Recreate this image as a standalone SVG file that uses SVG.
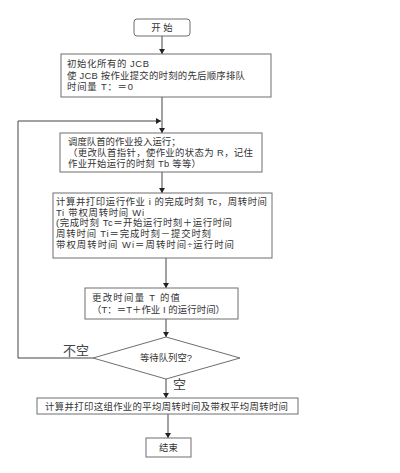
<svg xmlns="http://www.w3.org/2000/svg" width="400" height="473" viewBox="0 0 400 473">
<style>
.box{fill:#fff;stroke:#6e6e6e;stroke-width:1}
.t{font-family:"Liberation Sans","Noto Sans CJK SC",sans-serif;font-size:9.4px;fill:#333}
.c{text-anchor:middle}
.ln{stroke:#444;stroke-width:1;fill:none}
.lb{font-family:"Liberation Serif","Noto Sans CJK SC",serif;font-size:13px;fill:#444}
</style>
<defs>
<marker id="a" markerWidth="6" markerHeight="6" refX="5" refY="3" orient="auto" markerUnits="userSpaceOnUse">
<path d="M0,0 L5,3 L0,6 Z" fill="#222"/>
</marker>
</defs>
<rect width="400" height="473" fill="#fff"/>
<g id="connectors">
<line class="ln" x1="162" y1="36" x2="162" y2="54" marker-end="url(#a)"/>
<line class="ln" x1="162" y1="97" x2="162" y2="133" marker-end="url(#a)"/>
<polyline class="ln" points="93,358 18,358 18,121 161,121" marker-end="url(#a)"/>
<line class="ln" x1="162" y1="172" x2="162" y2="193" marker-end="url(#a)"/>
<line class="ln" x1="166" y1="258" x2="166" y2="288" marker-end="url(#a)"/>
<line class="ln" x1="166" y1="319" x2="166" y2="337" marker-end="url(#a)"/>
<line class="ln" x1="166" y1="379" x2="166" y2="398" marker-end="url(#a)"/>
<line class="ln" x1="168" y1="414" x2="168" y2="438" marker-end="url(#a)"/>
<text class="lb" x="63" y="355">不空</text>
<text class="lb" x="173" y="389">空</text>
</g>
<g id="start">
<rect class="box" x="134" y="19" width="56" height="17" rx="3"/>
<text class="t c" x="162" y="31">开  始</text>
</g>
<g id="init">
<rect class="box" x="61" y="54" width="210" height="43"/>
<text class="t" x="67" y="67" textLength="82" lengthAdjust="spacing">初始化所有的 JCB</text>
<text class="t" x="67" y="78.5" textLength="178" lengthAdjust="spacing">使 JCB 按作业提交的时刻的先后顺序排队</text>
<text class="t" x="67" y="90" textLength="66" lengthAdjust="spacing">时间量 T：＝0</text>
</g>
<g id="dispatch">
<rect class="box" x="60" y="133" width="202" height="39"/>
<text class="t" x="68" y="145">调度队首的作业投入运行；</text>
<text class="t" x="68" y="156" textLength="185" lengthAdjust="spacing">（更改队首指针，使作业的状态为 R，记住</text>
<text class="t" x="68" y="167" textLength="133" lengthAdjust="spacing">作业开始运行的时刻 Tb 等等）</text>
</g>
<g id="compute">
<rect class="box" x="53" y="193" width="219" height="65"/>
<text class="t" x="56" y="205" textLength="211" lengthAdjust="spacing">计算并打印运行作业 i 的完成时刻 Tc，周转时间</text>
<text class="t" x="56" y="215.5" textLength="88" lengthAdjust="spacing">Ti 带权周转时间 Wi</text>
<text class="t" x="56" y="226" textLength="176" lengthAdjust="spacing">(完成时刻 Tc＝开始运行时刻＋运行时间</text>
<text class="t" x="56" y="237" textLength="155" lengthAdjust="spacing">周转时间 Ti＝完成时刻－提交时刻</text>
<text class="t" x="56" y="248" textLength="178" lengthAdjust="spacing">带权周转时间 Wi＝周转时间÷运行时间</text>
</g>
<g id="update">
<rect class="box" x="85" y="288" width="153" height="31"/>
<text class="t" x="92" y="301" textLength="88" lengthAdjust="spacing">更改时间量 T 的值</text>
<text class="t" x="92" y="313" textLength="133" lengthAdjust="spacing">（T：＝T＋作业 I 的运行时间）</text>
</g>
<g id="decision">
<polygon class="box" points="166,337 240,358 166,379 93,358"/>
<text class="t c" x="166" y="361">等待队列空?</text>
</g>
<g id="average">
<rect class="box" x="37" y="398" width="261" height="16"/>
<text class="t" x="45" y="409.5" textLength="243" lengthAdjust="spacing">计算并打印这组作业的平均周转时间及带权平均周转时间</text>
</g>
<g id="end">
<rect class="box" x="146" y="438" width="45" height="19"/>
<text class="t c" x="168.5" y="451">结束</text>
</g>
</svg>
